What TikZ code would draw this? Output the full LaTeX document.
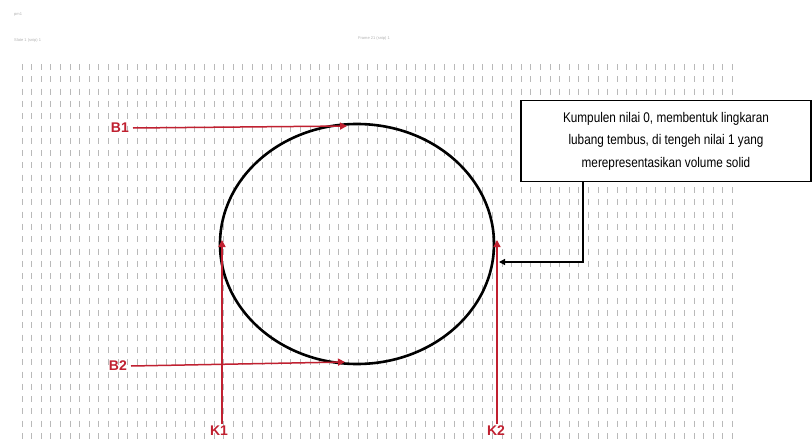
\documentclass[tikz,border=0pt]{standalone}
\usepackage{fontspec}
\setmainfont{Liberation Sans}
\newfontfamily\narrowfont[FakeStretch=0.84]{Liberation Sans}
\usetikzlibrary{arrows.meta,shapes.geometric}
\definecolor{myred}{RGB}{192,32,48}
\definecolor{gridc}{RGB}{185,185,185}
\begin{document}
\begin{tikzpicture}[x=1pt,y=-1pt,
  redarrow/.style={draw=myred,line width=1.5pt,-{Triangle[length=7pt,width=7pt]}},
  redlabel/.style={text=myred,font=\fontsize{14}{16}\selectfont\bfseries,inner sep=0pt},
  gridcol/.style={draw=gridc,line width=0.8pt,dash pattern=on 6pt off 6.3pt},
  tiny/.style={text=gray!60,font=\fontsize{4}{5}\selectfont,inner sep=0pt,anchor=west}]
\useasboundingbox (0,0) rectangle (812,439);
\fill[white] (0,0) rectangle (812,439);
% grid of marks
\foreach \i in {0,...,74} {
  \draw[gridcol] (22+\i*9.6,64) -- (22+\i*9.6,439);
}
% small header texts
\node[tiny] (t1) at (14,15) {pm1};
\node[tiny] (t2) at (14,40) {Slate 1 (snip) 1};
\node[tiny] (t3) at (358,38) {Frame 21 (snip) 1};
% circle
\node[draw=black,line width=2.6pt,ellipse,minimum width=274pt,minimum height=240pt,inner sep=0pt] (c) at (357,244) {};
\coordinate (b1e) at (347,126);
\coordinate (b2e) at (345,362);
\coordinate (k1e) at (222,240);
\coordinate (k2e) at (497,240);
\coordinate (k1s) at (222,424);
\coordinate (k2s) at (497,424);
% labels
\node[redlabel,anchor=east] (B1) at (129,128) {B1};
\node[redlabel,anchor=east] (B2) at (127,366) {B2};
\node[redlabel] (K1) at (219,431) {K1};
\node[redlabel] (K2) at (496,431) {K2};
\draw[redarrow] (B1.east) ++(4,0) coordinate (b1s) -- (b1e);
\draw[redarrow] (B2.east) ++(4,0) coordinate (b2s) -- (b2e);
\draw[redarrow] (k1s) -- (k1e);
\draw[redarrow] (k2s) -- (k2e);
% box
\node[draw=black,line width=1.3pt,fill=white,minimum width=290pt,minimum height=81pt,inner sep=2pt,align=center,font=\narrowfont\fontsize{14}{22.5}\selectfont] (box) at (666,141)
 {Kumpulen nilai 0, membentuk lingkaran\\lubang tembus, di tengeh nilai 1 yang\\merepresentasikan volume solid};
\coordinate (bend) at (583,262);
\draw[black,line width=1.3pt,-{Triangle[length=6pt,width=6pt]}] (box.south -| bend) -- (bend) -- (499,262);
\end{tikzpicture}
\end{document}
